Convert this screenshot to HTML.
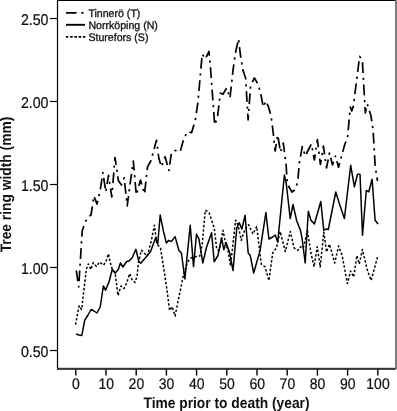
<!DOCTYPE html>
<html><head><meta charset="utf-8"><style>
html,body{margin:0;padding:0;background:#fff;}
body{width:397px;height:411px;overflow:hidden;position:relative;}
svg{position:absolute;left:0;top:0;will-change:transform;text-rendering:geometricPrecision;}
text{font-family:"Liberation Sans",sans-serif;fill:#111;}
</style></head><body>
<svg width="397" height="411" viewBox="0 0 397 411">
<g fill="none" stroke-linejoin="round">
<polyline points="75.5,324.7 79.1,305.8 81.6,309.5 84.5,285.0 86.4,269.0 88.3,263.9 90.8,269.5 93.3,262.6 96.4,266.4 99.6,262.0 103.4,265.1 105.9,262.0 108.4,253.8 110.3,262.6 112.2,269.0 115.1,272.7 118.0,295.5 121.0,286.0 124.0,288.6 127.0,282.0 129.7,273.6 132.0,279.5 135.0,282.5 137.0,276.5 138.5,262.0 141.4,250.2 144.4,253.2 147.3,256.0 151.5,240.0 154.4,225.2 156.9,244.0 160.5,248.0 164.0,270.0 167.0,290.0 169.6,310.4 172.1,306.6 175.1,316.0 178.5,299.0 183.5,275.0 187.7,261.8 191.0,258.0 195.3,256.8 199.9,255.9 202.1,245.3 205.3,210.2 209.1,212.7 214.2,227.8 216.7,249.2 219.2,250.5 223.0,230.3 225.5,242.9 228.0,250.5 230.5,265.6 235.6,220.2 238.1,225.3 241.3,240.3 245.0,229.0 248.6,224.7 253.0,234.0 256.7,226.5 259.3,248.0 261.3,264.2 265.1,266.8 268.9,280.6 272.7,252.9 276.4,247.9 280.2,231.5 285.3,251.6 290.3,231.5 294.1,247.9 297.9,250.4 300.8,246.7 303.3,248.0 307.5,230.9 310.9,253.0 314.1,266.8 317.2,246.7 320.2,266.8 323.8,232.2 326.5,252.0 329.5,244.2 334.7,263.0 338.6,246.0 342.1,255.4 347.4,283.5 350.6,271.0 353.7,277.0 356.9,255.5 359.3,264.0 362.4,249.5 367.5,270.6 371.1,280.5 377.6,256.8" stroke="#000" stroke-width="1.5" stroke-dasharray="2.4 1.9"/>
<polyline points="76.1,334.0 79.0,335.0 81.8,335.6 84.7,320.4 88.0,315.0 91.1,309.5 94.0,311.0 96.9,313.0 100.2,307.0 103.4,285.9 105.5,290.3 109.0,282.0 112.2,269.5 115.3,273.3 118.5,268.9 120.4,263.0 122.9,267.0 126.7,261.5 129.1,260.9 132.2,257.8 135.8,249.3 138.9,261.5 140.7,263.3 145.5,257.8 150.6,251.6 155.6,237.8 157.7,244.0 160.2,215.1 163.8,232.8 166.3,242.9 168.8,240.4 171.3,241.6 175.1,236.6 178.9,250.5 181.4,253.0 184.9,279.0 190.2,225.3 193.5,266.8 196.5,234.0 199.0,239.1 202.8,263.0 206.6,247.0 211.6,232.8 214.2,261.8 217.9,255.5 221.6,238.0 223.8,249.7 226.0,242.4 229.6,252.6 233.0,270.6 236.8,227.8 239.3,222.7 241.9,229.0 245.1,215.2 248.2,253.0 250.2,255.4 253.7,273.0 260.1,250.4 265.9,212.5 268.9,239.0 272.7,237.0 275.2,235.0 277.7,242.0 284.4,175.0 286.2,183.0 290.2,218.5 293.0,204.5 296.6,220.4 300.4,230.2 302.0,237.9 305.2,263.0 308.3,211.3 310.9,220.2 314.4,224.0 320.8,201.5 323.8,230.5 326.0,229.0 328.3,229.5 335.8,192.0 339.8,205.1 344.4,218.5 350.7,165.3 354.4,186.8 357.5,174.2 360.0,174.2 362.5,235.3 366.3,190.5 368.8,191.8 372.1,179.2 375.1,220.2 378.1,224.0" stroke="#000" stroke-width="1.5"/>
<polyline points="76.3,270.5 78.7,287.0 82.2,231.0 85.0,222.5 88.0,217.0 91.0,215.0 93.9,196.0 97.0,204.0 100.2,190.5 102.9,172.5 105.8,192.0 108.5,175.3 111.8,197.0 115.0,157.5 118.5,181.0 121.5,185.0 124.2,177.9 127.2,206.0 130.5,181.0 133.3,161.0 136.3,195.0 140.5,180.0 144.5,194.0 147.5,167.0 151.0,160.5 156.5,140.3 158.8,158.0 161.3,166.8 165.1,156.7 168.9,170.5 171.4,152.9 175.2,150.4 180.2,151.6 184.0,137.8 187.8,131.5 191.6,132.7 195.3,120.2 197.9,102.5 202.2,54.0 205.3,59.0 209.0,51.5 210.3,65.3 214.7,125.0 217.5,117.0 220.4,93.0 222.9,94.3 226.7,88.0 230.0,98.0 233.0,70.4 235.5,52.7 238.5,38.9 240.5,55.3 243.0,70.4 245.6,78.0 248.1,120.0 250.6,85.5 254.4,78.0 258.3,84.5 261.0,95.0 263.2,107.0 266.0,101.0 268.5,107.0 271.1,116.0 273.0,131.0 275.1,151.0 277.7,135.0 280.5,152.0 283.3,143.0 286.2,166.0 287.0,180.0 289.0,187.0 292.0,192.2 294.5,190.0 296.7,185.4 298.0,178.6 299.3,163.0 302.3,146.5 305.3,156.0 308.3,150.0 311.4,144.0 314.4,160.0 317.4,139.6 320.4,164.5 323.4,146.0 326.5,168.0 329.5,153.0 332.5,165.0 335.5,156.0 338.5,167.4 341.6,156.0 344.6,145.0 347.6,137.0 348.4,128.0 350.3,107.0 351.8,111.0 353.4,106.0 359.6,56.4 362.3,60.0 364.6,100.0 365.3,113.0 367.3,104.0 371.0,116.0 373.1,130.0 375.1,165.3 377.5,181.0" stroke="#000" stroke-width="1.7" stroke-dasharray="10.8 4.7 2.2 4.7"/>
</g>
<!-- frame -->
<g stroke="#000" fill="none">
<line x1="57.5" y1="0" x2="57.5" y2="369.5" stroke-width="1.2"/>
<line x1="57" y1="0.5" x2="396" y2="0.5" stroke-width="1.2"/>
<rect x="57" y="367.8" width="339" height="2.1" fill="#353535" stroke="none"/>
<rect x="395" y="0" width="2" height="369" fill="#7a7a7a" stroke="none"/>
</g>
<!-- y ticks -->
<g stroke="#000" stroke-width="1.2">
<line x1="50" y1="18.5" x2="57" y2="18.5"/>
<line x1="50" y1="101.5" x2="57" y2="101.5"/>
<line x1="50" y1="184.5" x2="57" y2="184.5"/>
<line x1="50" y1="267.5" x2="57" y2="267.5"/>
<line x1="50" y1="350.5" x2="57" y2="350.5"/>
</g>
<g font-size="14.2" text-anchor="end" stroke="#111" stroke-width="0.22">
<text transform="translate(48.5,24.7) scale(1,1.1)">2.50</text>
<text transform="translate(48.5,107.7) scale(1,1.1)">2.00</text>
<text transform="translate(48.5,190.7) scale(1,1.1)">1.50</text>
<text transform="translate(48.5,273.7) scale(1,1.1)">1.00</text>
<text transform="translate(48.5,356.7) scale(1,1.1)">0.50</text>
</g>
<!-- x ticks -->
<g stroke="#000" stroke-width="1.4">
<line x1="75.8" y1="369.5" x2="75.8" y2="375.6"/>
<line x1="106" y1="369.5" x2="106" y2="375.6"/>
<line x1="136.2" y1="369.5" x2="136.2" y2="375.6"/>
<line x1="166.4" y1="369.5" x2="166.4" y2="375.6"/>
<line x1="196.6" y1="369.5" x2="196.6" y2="375.6"/>
<line x1="226.8" y1="369.5" x2="226.8" y2="375.6"/>
<line x1="257" y1="369.5" x2="257" y2="375.6"/>
<line x1="287.2" y1="369.5" x2="287.2" y2="375.6"/>
<line x1="317.4" y1="369.5" x2="317.4" y2="375.6"/>
<line x1="347.6" y1="369.5" x2="347.6" y2="375.6"/>
<line x1="377.8" y1="369.5" x2="377.8" y2="375.6"/>
</g>
<g font-size="14" text-anchor="middle" stroke="#111" stroke-width="0.22">
<text transform="translate(76.0,388.5) scale(1,1.1)">0</text>
<text transform="translate(106.2,388.5) scale(1,1.1)">10</text>
<text transform="translate(136.4,388.5) scale(1,1.1)">20</text>
<text transform="translate(166.6,388.5) scale(1,1.1)">30</text>
<text transform="translate(196.8,388.5) scale(1,1.1)">40</text>
<text transform="translate(227.0,388.5) scale(1,1.1)">50</text>
<text transform="translate(257.2,388.5) scale(1,1.1)">60</text>
<text transform="translate(287.4,388.5) scale(1,1.1)">70</text>
<text transform="translate(317.6,388.5) scale(1,1.1)">80</text>
<text transform="translate(347.8,388.5) scale(1,1.1)">90</text>
<text transform="translate(378.0,388.5) scale(1,1.1)">100</text>
</g>
<text transform="translate(226.5,408.1) scale(1,1.1)" font-size="13.8" font-weight="bold" text-anchor="middle">Time prior to death (year)</text>
<text transform="translate(11,184.5) rotate(-90) scale(1,1.1)" font-size="13.8" font-weight="bold" text-anchor="middle">Tree ring width (mm)</text>
<!-- legend -->
<g fill="none" stroke="#000">
<line x1="66" y1="12.8" x2="84" y2="12.8" stroke-width="1.7" stroke-dasharray="10.5 4.7 2.3 10"/>
<line x1="66" y1="24.8" x2="85" y2="24.8" stroke-width="1.9"/>
<line x1="65.9" y1="36.9" x2="85.3" y2="36.9" stroke-width="1.8" stroke-dasharray="2.5 1.75"/>
</g>
<g font-size="10.6" stroke="#111" stroke-width="0.3">
<text transform="translate(88.4,17) scale(1,1.04)">Tinnerö (T)</text>
<text transform="translate(88.4,29) scale(1,1.04)">Norrköping (N)</text>
<text transform="translate(88.4,41) scale(1,1.04)">Sturefors (S)</text>
</g>
</svg>
</body></html>
